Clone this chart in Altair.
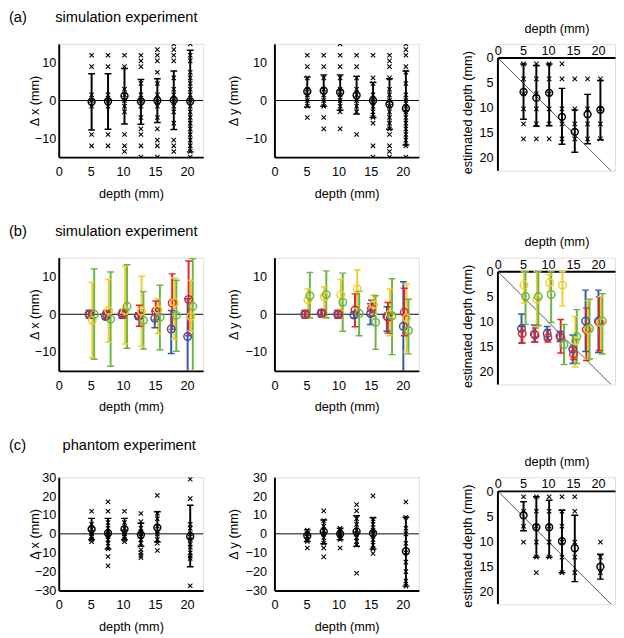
import altair as alt
import pandas as pd

FONT = "Liberation Sans"
DEPTHS = [5.12, 7.68, 10.24, 12.8, 15.36, 17.92, 20.48]
DEPTHS_C = [5.12, 7.68, 10.24, 12.8, 15.36, 20.48]
DEPTH_TICKS = [0, 5, 10, 15, 20]

# ---------------- (a) simulation experiment ----------------
A_DX_MEAN = [-0.3, -0.2, 1.2, -0.2, 0.0, 0.1, -0.2]
A_DX_LO = [-7.8, -7.6, -6.2, -6.3, -5.8, -7.7, -13.6]
A_DX_HI = [7.1, 7.1, 8.5, 5.6, 5.8, 7.8, 13.3]
A_DX_PTS = [
    [12, 9, 1.5, 0, -1.5, -9, -12],
    [12, 9, 1.5, 0, -1.5, -9, -12],
    [12, 9, 3, 1.5, 0, -1.5, -3, -9, -12, -13.5],
    [12, 10.5, 9, 4.5, 1.5, 0, -1.5, -4.5, -7.5, -9, -12, -15],
    [13.5, 12, 10.5, 7.5, 4.5, 1.5, 0, -1.5, -4.5, -7.5, -10.5, -12, -15],
    [15, 13.5, 12, 10.5, 6, 3, 1.5, 0, -1.5, -3, -6, -10.5, -12, -13.5],
    [15, 12, 10.5, 7.5, 6, 4.5, 3, 1.5, 0, -1.5, -3, -4.5, -6, -7.5, -9, -10.5, -12, -13.5, -15],
]
A_DY_MEAN = [2.4, 2.6, 2.2, 1.4, 0.0, -1.0, -2.1]
A_DY_LO = [-1.7, -1.5, -2.6, -3.6, -4.5, -7.6, -11.8]
A_DY_HI = [6.2, 6.8, 6.8, 6.4, 4.8, 5.8, 7.8]
A_DY_PTS = [
    [12, 9, 6, 3, 1.5, 0, -1.5, -4.5],
    [12, 9, 6, 3, 1.5, 0, -1.5, -4.5, -7.5],
    [15, 12, 9, 6, 3, 1.5, 0, -1.5, -3, -7.5],
    [12, 9, 6, 3, 1.5, 0, -1.5, -3, -9],
    [12, 6, 4.5, 1.5, 0, -1.5, -3, -4.5, -6, -12, -15],
    [12, 10.5, 9, 6, 3, 1.5, 0, -1.5, -3, -4.5, -6, -7.5, -9, -12, -13.5, -15],
    [15, 13.5, 12, 9, 7.5, 4.5, 1.5, 0, -1.5, -3, -4.5, -6, -7.5, -9, -10.5, -12, -15],
]
A_DZ_MEAN = [6.8, 8.0, 7.0, 11.8, 14.8, 11.3, 10.4]
A_DZ_LO = [1.2, 1.5, 1.2, 6.1, 10.4, 7.3, 4.5]
A_DZ_HI = [12.3, 13.7, 13.6, 17.3, 18.9, 17.2, 16.4]
A_DZ_PTS = [
    [1.2, 4.2, 7.2, 10.2, 13.2, 16.2],
    [1.2, 4.2, 7.2, 10.2, 13.2, 16.2],
    [1.2, 4.2, 7.2, 10.2, 13.2, 16.2],
    [1.2, 4.2, 10.2, 13.2, 16.2],
    [4.2, 10.2, 13.2, 16.2],
    [4.2, 10.2, 13.2, 16.2],
    [4.2, 10.2, 13.2, 16.2],
]

# ---------------- (b) simulation experiment, four conditions ----------------
SERIES = ["blue", "red", "yellow", "green"]
COLORS = ["#2c5aa8", "#e0262b", "#f0cd2c", "#6cb545"]
B_DX_MEAN = {"blue": [0.0, -0.6, 0.0, -0.5, -1.1, -3.9, -5.9],
             "red": [0.0, 0.0, 0.2, -0.4, 0.8, 3.0, 3.9],
             "yellow": [-1.6, 1.0, 1.0, 0.8, 1.2, 3.1, -0.6],
             "green": [0.0, -1.3, 2.1, -1.6, -0.8, -0.3, 2.1]}
B_DX_LO = {"blue": [-1.0, -1.3, -1.0, -1.2, -3.6, -10.4, -16.0],
           "red": [-1.0, -1.0, -1.0, -3.2, -1.5, -4.0, -5.7],
           "yellow": [-11.5, -7.4, -7.9, -8.5, -5.1, -6.6, -4.5],
           "green": [-11.9, -13.8, -9.0, -9.2, -9.4, -9.8, -16.0]}
B_DX_HI = {"blue": [1.0, 0.5, 1.0, 0.4, 0.8, 1.0, 4.1],
           "red": [1.0, 1.0, 1.3, 2.4, 3.5, 10.7, 14.1],
           "yellow": [8.4, 9.2, 12.8, 10.1, 4.1, 9.6, 9.0],
           "green": [12.0, 11.2, 13.1, 6.0, 7.7, 9.0, 14.8]}
B_DY_MEAN = {"blue": [0.0, 0.3, 0.0, -0.2, 0.2, -0.5, -3.2],
             "red": [0.0, 0.3, 0.0, 1.1, 1.5, -0.8, 0.5],
             "yellow": [3.8, 4.7, 5.2, 6.7, 2.6, 0.1, -1.0],
             "green": [4.9, 5.2, 3.2, 0.2, -2.1, -0.4, -4.3]}
B_DY_LO = {"blue": [-1.0, -0.7, -1.0, -1.0, -2.7, -4.5, -16.0],
           "red": [-1.0, -0.7, -1.0, -3.3, -0.5, -5.0, -5.7],
           "yellow": [-1.0, -0.8, 1.0, 1.5, 0.0, -5.7, -10.0],
           "green": [-1.0, -1.0, -4.5, -5.7, -9.3, -10.7, -10.5]}
B_DY_HI = {"blue": [1.0, 1.2, 1.0, 0.5, 2.8, 2.0, 8.6],
           "red": [1.0, 1.2, 1.0, 5.4, 3.7, 3.1, 6.9],
           "yellow": [6.7, 7.3, 9.2, 11.8, 5.1, 6.7, 8.0],
           "green": [11.1, 11.5, 10.9, 6.1, 4.9, 9.4, 4.0]}
B_DZ_MEAN = {"blue": [11.4, 12.5, 12.4, 12.9, 15.5, 9.9, 9.9],
             "red": [12.4, 12.7, 13.2, 13.2, 16.5, 11.6, 10.1],
             "yellow": [2.7, 5.5, 2.2, 2.7, 13.9, 11.6, 10.2],
             "green": [5.0, 5.0, 4.6, 14.6, 13.0, 11.4, 9.9]}
B_DZ_LO = {"blue": [8.5, 10.7, 11.0, 12.0, 12.7, 3.7, 3.7],
           "red": [11.0, 11.3, 11.6, 9.6, 15.2, 7.3, 5.0],
           "yellow": [0.0, 0.0, 0.6, 0.0, 9.0, 5.8, 5.0],
           "green": [0.0, 0.0, 0.0, 10.6, 7.6, 5.5, 4.4]}
B_DZ_HI = {"blue": [14.3, 14.1, 13.6, 14.0, 18.4, 16.0, 16.2],
           "red": [14.3, 14.1, 14.1, 16.3, 17.6, 17.8, 15.8],
           "yellow": [6.3, 11.0, 4.0, 6.9, 19.1, 17.5, 16.5],
           "green": [10.6, 10.8, 10.2, 18.6, 18.4, 17.5, 16.5]}
B_OFFSET = {"blue": -0.4, "red": -0.25, "yellow": 0.1, "green": 0.4}

# ---------------- (c) phantom experiment ----------------
C_DX_MEAN = [2.5, 0.3, 2.5, -0.5, 3.3, -1.4]
C_DX_LO = [-3.1, -8.0, -3.1, -6.6, -4.3, -17.4]
C_DX_HI = [8.2, 8.2, 8.2, 5.6, 11.7, 15.2]
C_DX_PTS = [
    [12, 5, 2.5, 1, 0, -1.5, -3, -4.2],
    [17, 12, 6, 3, 1, 0, -1.5, -3, -5, -8, -12, -17],
    [12, 6, 3, 1, 0, -1.5, -3, -4.2],
    [10.8, 6.5, 3, 1, 0, -1.5, -3, -5, -8.4, -10, -11.4, -12.6],
    [20.4, 11, 8, 4, 1, 0, -3, -5, -8.8],
    [29, 18.7, 5, 3, 0, -3, -5.5, -7, -10, -11.8, -13, -27.5],
]
C_DY_MEAN = [-1.0, 1.2, 0.0, 1.2, 0.3, -9.2]
C_DY_LO = [-4.0, -5.2, -3.1, -6.6, -8.0, -27.7]
C_DY_HI = [2.1, 7.3, 3.0, 9.6, 8.5, 8.8]
C_DY_PTS = [
    [2, 0, -1.5, -3, -4, -7.5],
    [12.2, 7, 4, 1.5, 0, -2, -5, -7.5, -12.2],
    [3, 1, 0, -1, -3, -7.5],
    [15.5, 12.2, 8, 5, 2, 0, -2, -4, -6, -20.9],
    [20.1, 8, 5, 2, 0, -3, -6, -8, -10.4],
    [16.9, 8.8, 3, 0, -5, -10, -15, -20, -25, -27.7],
]
C_DZ_MEAN = [4.8, 7.2, 7.2, 10.0, 11.4, 15.1]
C_DZ_LO = [2.1, 1.1, 1.8, 3.8, 4.8, 12.6]
C_DZ_HI = [7.9, 13.2, 13.2, 16.3, 18.1, 17.6]
C_DZ_PTS = [
    [1.1, 4.0, 7.0, 10.2],
    [1.1, 4.0, 7.0, 10.2, 13.2, 16.3],
    [1.1, 4.0, 7.0, 10.2, 13.2],
    [1.1, 4.0, 7.0, 10.2, 13.2, 16.3],
    [1.1, 4.0, 10.2, 13.2, 16.3],
    [10.2, 13.2, 16.3],
]

# ---------------- styling helpers ----------------
X_SHAPE = "M-1,-1L1,1M-1,1L1,-1"
NB = "\u00a0"
EST_MAX = 22.6          # bottom of the estimated-depth axis
EST_TOP = -2.8          # headroom above the top axis of the right panels


def axis(title, values, orient, label_pad, tx=None, ty=None, **extra):
    kw = dict(extra)
    if tx is not None:
        kw["titleX"] = tx
    if ty is not None:
        kw["titleY"] = ty
    return alt.Axis(orient=orient, values=values, title=title, grid=False, ticks=False, tickSize=0,
                    domainWidth=2, domainColor="black", labelFlush=False, labelOverlap=False,
                    labelFont=FONT, titleFont=FONT, labelFontSize=13, titleFontSize=13,
                    titleFontWeight="normal", labelColor="black", titleColor="black",
                    labelPadding=label_pad, titleBaseline="middle", **kw)


def bars_df(depths, mean, lo, hi):
    return pd.DataFrame({"x": depths, "mean": mean, "lo": lo, "hi": hi, "s": "black"})


def bars_multi(depths, mean, lo, hi):
    frames = []
    for s in SERIES:
        frames.append(pd.DataFrame({"x": [d + B_OFFSET[s] for d in depths], "mean": mean[s],
                                    "lo": lo[s], "hi": hi[s], "s": s}))
    return pd.concat(frames, ignore_index=True)


def pts_df(depths, pts):
    rows = [(d, v) for d, vs in zip(depths, pts) for v in vs]
    return pd.DataFrame(rows, columns=["x", "v"])


def panel(bars, xs, ys, ax, ay, pts=None, colored=False, base=(), circle_size=50,
          title=None, w=148, h=116):
    col = (alt.Color("s:N", scale=alt.Scale(domain=SERIES, range=COLORS), legend=None)
           if colored else alt.value("black"))
    X = alt.X("x:Q", scale=xs, axis=ax)
    layers = list(base)
    if pts is not None:
        layers.append(alt.Chart(pts).mark_point(shape=X_SHAPE, size=20, strokeWidth=1.1, color="black",
                                                opacity=1, clip=True)
                      .encode(x=X, y=alt.Y("v:Q", scale=ys, axis=ay)))
    layers.append(alt.Chart(bars).mark_rule(strokeWidth=2, clip=True)
                  .encode(x=X, y=alt.Y("lo:Q", scale=ys, axis=ay), y2="hi:Q", color=col))
    layers.append(alt.Chart(bars).transform_fold(["lo", "hi"], as_=["end", "yv"])
                  .mark_point(shape="stroke", size=49, strokeWidth=1.5, opacity=1, clip=True)
                  .encode(x=X, y=alt.Y("yv:Q", scale=ys, axis=ay), color=col))
    layers.append(alt.Chart(bars).mark_point(shape="circle", size=circle_size, strokeWidth=1.5,
                                             filled=False, opacity=1, clip=True)
                  .encode(x=X, y=alt.Y("mean:Q", scale=ys, axis=ay), color=col))
    ch = alt.layer(*layers).properties(width=w, height=h)
    if title is not None:
        ch = ch.properties(title=title)
    return ch


XS_L = alt.Scale(domain=[0, 22.5], nice=False, zero=False)
XS_R = alt.Scale(domain=[0, 23.4], nice=False, zero=False)
YS_AB = alt.Scale(domain=[-15, 15], nice=False)
YS_C = alt.Scale(domain=[-30, 30], nice=False)
YS_R = alt.Scale(domain=[EST_TOP, EST_MAX], nice=False, reverse=True)


def zero_line(ys, ay):
    return alt.Chart(pd.DataFrame({"z": [0]})).mark_rule(color="black", strokeWidth=1).encode(
        y=alt.Y("z:Q", scale=ys, axis=ay))


def right_frame(ax, ay):
    diag = alt.Chart(pd.DataFrame({"x": [0, EST_MAX], "y": [0, EST_MAX]})).mark_line(
        color="#555555", strokeWidth=1, clip=True).encode(
        x=alt.X("x:Q", scale=XS_R, axis=ax), y=alt.Y("y:Q", scale=YS_R, axis=ay))
    yline = alt.Chart(pd.DataFrame({"x": [0], "y": [0], "y2": [EST_MAX]})).mark_rule(
        color="black", strokeWidth=2).encode(
        x=alt.X("x:Q", scale=XS_R, axis=ax), y=alt.Y("y:Q", scale=YS_R, axis=ay), y2="y2:Q")
    return [diag, yline]


def row_title(label, text, gap):
    return alt.TitleParams(text=label + NB * gap + text, anchor="start", frame="group", dx=-51,
                           fontSize=15, font=FONT, fontWeight="normal", color="black", offset=19)


AX_BOTTOM = axis("depth (mm)", DEPTH_TICKS, "bottom", 9, ty=37)
AX_TOP = axis("depth (mm)", DEPTH_TICKS, "top", 0, ty=-30, offset=-14)
AY_RIGHT = axis("estimated depth (mm)", DEPTH_TICKS, "left", 5, tx=-31, ty=70, domain=False)


def left_panel(label, text, gap, ytitle, ys, yvals, bars, pts=None, colored=False, cs=50):
    ay = axis(ytitle, yvals, "left", 3, tx=-25)
    return panel(bars, XS_L, ys, AX_BOTTOM, ay, pts=pts, colored=colored, base=[zero_line(ys, ay)],
                 circle_size=cs, title=row_title(label, text, gap))


def mid_panel(ytitle, ys, yvals, bars, pts=None, colored=False, cs=50):
    ay = axis(ytitle, yvals, "left", 8, tx=-42)
    return panel(bars, XS_L, ys, AX_BOTTOM, ay, pts=pts, colored=colored, base=[zero_line(ys, ay)],
                 circle_size=cs)


def right_panel(bars, pts=None, colored=False, cs=50):
    return panel(bars, XS_R, YS_R, AX_TOP, AY_RIGHT, pts=pts, colored=colored,
                 base=right_frame(AX_TOP, AY_RIGHT), circle_size=cs, w=120, h=130)


def row(l, m, r):
    return alt.hconcat(alt.hconcat(l, m, spacing=23), r, spacing=42)


DX, DY = "\u0394 x (mm)", "\u0394 y (mm)"
AB_TICKS = [-10, 0, 10]
C_TICKS = [-30, -20, -10, 0, 10, 20, 30]

rowA = row(
    left_panel("(a)", "simulation experiment", 7, DX, YS_AB, AB_TICKS,
               bars_df(DEPTHS, A_DX_MEAN, A_DX_LO, A_DX_HI), pts_df(DEPTHS, A_DX_PTS)),
    mid_panel(DY, YS_AB, AB_TICKS, bars_df(DEPTHS, A_DY_MEAN, A_DY_LO, A_DY_HI), pts_df(DEPTHS, A_DY_PTS)),
    right_panel(bars_df(DEPTHS, A_DZ_MEAN, A_DZ_LO, A_DZ_HI), pts_df(DEPTHS, A_DZ_PTS)))
rowB = row(
    left_panel("(b)", "simulation experiment", 7, DX, YS_AB, AB_TICKS,
               bars_multi(DEPTHS, B_DX_MEAN, B_DX_LO, B_DX_HI), colored=True, cs=60),
    mid_panel(DY, YS_AB, AB_TICKS, bars_multi(DEPTHS, B_DY_MEAN, B_DY_LO, B_DY_HI), colored=True, cs=60),
    right_panel(bars_multi(DEPTHS, B_DZ_MEAN, B_DZ_LO, B_DZ_HI), colored=True, cs=60))
rowC = row(
    left_panel("(c)", "phantom experiment", 9, DX, YS_C, C_TICKS,
               bars_df(DEPTHS_C, C_DX_MEAN, C_DX_LO, C_DX_HI), pts_df(DEPTHS_C, C_DX_PTS)),
    mid_panel(DY, YS_C, C_TICKS, bars_df(DEPTHS_C, C_DY_MEAN, C_DY_LO, C_DY_HI), pts_df(DEPTHS_C, C_DY_PTS)),
    right_panel(bars_df(DEPTHS_C, C_DZ_MEAN, C_DZ_LO, C_DZ_HI), pts_df(DEPTHS_C, C_DZ_PTS)))

chart = (alt.vconcat(rowA, rowB, rowC, spacing=23)
         .properties(padding={"top": -6, "left": 0, "right": 0, "bottom": 0})
         .configure_view(stroke=None)
         .configure(font=FONT))

chart.save("out.html", embed_options={"renderer": "svg", "actions": False})
